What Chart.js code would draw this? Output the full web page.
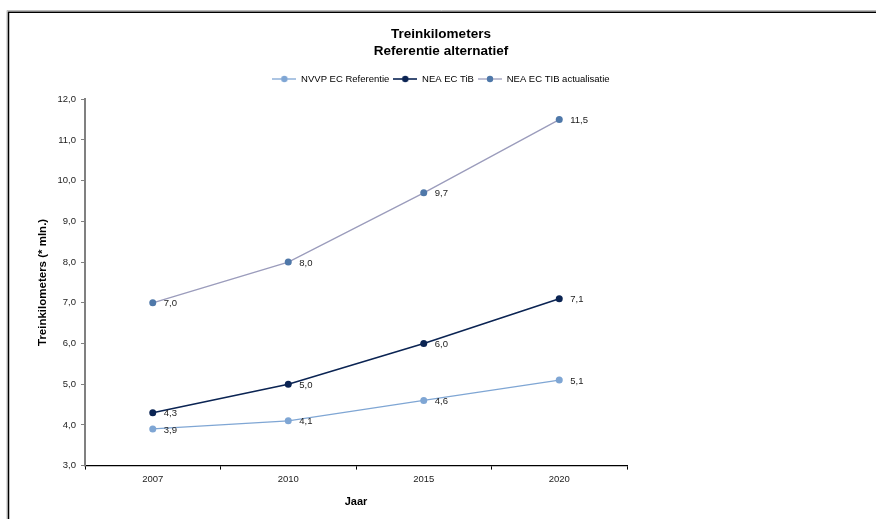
<!DOCTYPE html>
<html>
<head>
<meta charset="utf-8">
<script src="https://cdn.jsdelivr.net/npm/chart.js@4.4.1/dist/chart.umd.min.js"></script>
<style>
  html, body { margin: 0; padding: 0; background: #fff; }
  #wrap { width: 876px; height: 519px; position: relative; }
</style>
</head>
<body>
<div id="wrap"><canvas id="c" width="876" height="519"></canvas></div>
<script>
// Train kilometres (millions) per scenario
const years = ['2007', '2010', '2015', '2020'];
const nvvpReferentie = [3.9, 4.1, 4.6, 5.1];
const neaTib = [4.3, 5.0, 6.0, 7.1];
const neaTibActualisatie = [7.0, 8.0, 9.7, 11.5];
const seriesNames = ['NVVP EC Referentie', 'NEA EC TiB', 'NEA EC TIB actualisatie'];
const yTicks = [3, 4, 5, 6, 7, 8, 9, 10, 11, 12];

const FONT = "'Liberation Sans', Arial, sans-serif";
const fmt = v => v.toFixed(1).replace('.', ',');

const styles = [
  { line: '#7fa6d4', point: '#7fa6d4', width: 1.3 },
  { line: '#0b2453', point: '#0b2453', width: 1.6 },
  { line: '#9b9cbc', point: '#4f78a9', width: 1.3 }
];

// Small line-with-dot swatch for the legend
function swatch(st) {
  const c = document.createElement('canvas');
  c.width = 24; c.height = 8;
  const g = c.getContext('2d');
  g.strokeStyle = st.line; g.lineWidth = st.width;
  g.beginPath(); g.moveTo(0, 4); g.lineTo(24, 4); g.stroke();
  g.fillStyle = st.point;
  g.beginPath(); g.arc(12, 4, 3.2, 0, Math.PI * 2); g.fill();
  return c;
}

const seriesData = [nvvpReferentie, neaTib, neaTibActualisatie];
const datasets = seriesData.map((d, i) => ({
  label: seriesNames[i],
  data: d,
  borderColor: styles[i].line,
  backgroundColor: styles[i].point,
  pointBackgroundColor: styles[i].point,
  pointBorderWidth: 0,
  pointRadius: 3.5,
  borderWidth: styles[i].width,
  tension: 0,
  yAxisID: 'y'
}));

// Outer frame line of the chart object
const framePlugin = {
  id: 'frame',
  beforeDraw(chart) {
    const ctx = chart.ctx;
    ctx.save();
    ctx.strokeStyle = '#bbbbbb'; ctx.lineWidth = 1;
    ctx.beginPath(); ctx.moveTo(7, 519); ctx.lineTo(7, 10.5); ctx.lineTo(876, 10.5); ctx.stroke();
    ctx.strokeStyle = '#000'; ctx.lineWidth = 1.5;
    ctx.beginPath(); ctx.moveTo(8.5, 519); ctx.lineTo(8.5, 12.25); ctx.lineTo(876, 12.25); ctx.stroke();
    ctx.restore();
  }
};

// Value labels to the right of each point
const valueLabels = {
  id: 'valueLabels',
  afterDatasetsDraw(chart) {
    const ctx = chart.ctx;
    ctx.save();
    ctx.font = '9.5px ' + FONT;
    ctx.fillStyle = '#222';
    ctx.textAlign = 'left';
    ctx.textBaseline = 'middle';
    chart.data.datasets.forEach((ds, i) => {
      chart.getDatasetMeta(i).data.forEach((pt, j) => {
        ctx.fillText(fmt(ds.data[j]), pt.x + 11, pt.y + 1);
      });
    });
    ctx.restore();
  }
};

new Chart(document.getElementById('c'), {
  type: 'line',
  data: { labels: years, datasets },
  plugins: [framePlugin, valueLabels],
  options: {
    responsive: false,
    animation: false,
    devicePixelRatio: 1,
    layout: { padding: { left: 32, right: 26, top: 14, bottom: 10.4 } },
    plugins: {
      tooltip: { enabled: false },
      title: {
        display: true,
        text: ['Treinkilometers', 'Referentie alternatief'],
        color: '#000',
        font: { family: FONT, size: 13.5, weight: 'bold', lineHeight: 1.3 },
        padding: { top: 11.4, bottom: 9.75 }
      },
      legend: {
        display: true,
        position: 'top',
        labels: {
          color: '#222',
          font: { family: FONT, size: 9.5 },
          usePointStyle: true,
          pointStyleWidth: 24,
          padding: 4,
          generateLabels(chart) {
            return chart.data.datasets.map((ds, i) => ({
              text: ds.label,
              pointStyle: swatch(styles[i]),
              fillStyle: styles[i].point,
              strokeStyle: styles[i].line,
              lineWidth: 0,
              hidden: false,
              datasetIndex: i
            }));
          }
        }
      },
      subtitle: {
        display: true,
        text: '',
        weight: 500,
        font: { size: 1, lineHeight: 1 },
        padding: { top: 4.5, bottom: 0 }
      }
    },
    scales: {
      x: {
        type: 'category',
        offset: true,
        grid: { display: true, offset: true, drawOnChartArea: false, drawTicks: true, tickLength: 4, color: '#000', lineWidth: 1 },
        border: { display: true, color: '#000', width: 1.3 },
        ticks: { color: '#222', font: { family: FONT, size: 9.5 }, padding: 4, maxRotation: 0 },
        title: { display: true, text: 'Jaar', color: '#000', font: { family: FONT, size: 11, weight: 'bold' }, padding: { top: 6.4, bottom: 0 } }
      },
      y: {
        position: 'left',
        min: 3, max: 12,
        afterBuildTicks(scale) { scale.ticks = yTicks.map(v => ({ value: v })); },
        afterFit(scale) { scale.width = 53; },
        grid: { display: true, drawOnChartArea: false, drawTicks: true, tickLength: 4, color: '#808080', lineWidth: 1 },
        border: { display: true, color: '#808080', width: 2 },
        ticks: { color: '#222', font: { family: FONT, size: 9.5 }, padding: 5, callback: v => fmt(v) },
        title: { display: true, text: 'Treinkilometers (* mln.)', color: '#000', font: { family: FONT, size: 11.5, weight: 'bold' }, padding: { top: 4, bottom: 4 } }
      },
      side: {
        position: 'right',
        display: true,
        afterFit(scale) { scale.width = 223; },
        grid: { display: false },
        border: { display: false },
        ticks: { display: false }
      }
    }
  }
});
</script>
</body>
</html>
